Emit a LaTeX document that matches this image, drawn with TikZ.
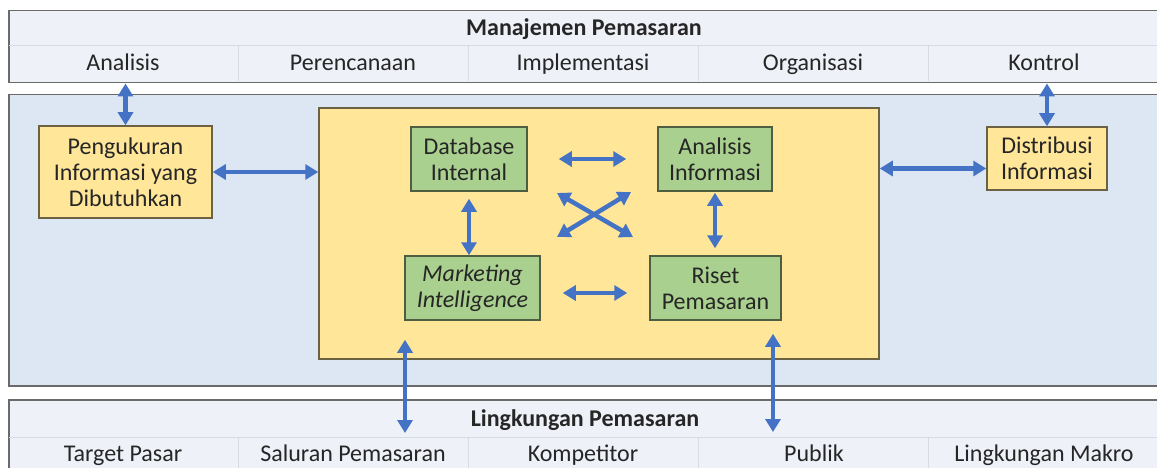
\documentclass[tikz,border=0pt]{standalone}
\usepackage{fontspec}
\setmainfont{Carlito}
\usetikzlibrary{arrows.meta,calc}
\definecolor{panelA}{HTML}{EEF1F7}
\definecolor{panelB}{HTML}{DDE7F3}
\definecolor{divl}{HTML}{D6DBE5}
\definecolor{yel}{HTML}{FFE699}
\definecolor{grn}{HTML}{A9D08E}
\definecolor{arr}{HTML}{4472C4}
\definecolor{edge}{HTML}{6A6A6A}
\definecolor{yedge}{HTML}{6B6244}
\definecolor{gedge}{HTML}{4E5E40}
\definecolor{txt}{HTML}{262626}
\begin{document}
\begin{tikzpicture}[x=1pt,y=-1pt,
  font=\fontsize{24}{26}\selectfont,
  panel/.style={draw=edge, line width=1.5pt, anchor=north west, inner sep=0pt},
  ybox/.style={draw=yedge, fill=yel, line width=1.5pt, inner sep=0pt, align=center, text=txt},
  gbox/.style={draw=gedge, fill=grn, line width=1.5pt, inner sep=0pt, align=center, text=txt},
  lbl/.style={text=txt, inner sep=0pt, anchor=base},
  hdr/.style={text=txt, inner sep=0pt, anchor=base, font=\fontsize{24}{26}\selectfont\bfseries},
  dbl/.style={draw=arr, line width=4.5pt,
    {Triangle[width=15pt,length=13pt]}-{Triangle[width=15pt,length=13pt]}},
  divline/.style={draw=divl, line width=1pt}
]
\useasboundingbox (0,0) rectangle (1157,468);
% panels
\node[panel, fill=panelA, minimum width=1152pt, minimum height=72pt] (top) at (8,10) {};
\node[panel, fill=panelB, minimum width=1152pt, minimum height=291pt] (mid) at (8,94) {};
\node[panel, fill=panelA, minimum width=1152pt, minimum height=80pt] (env) at (8,399) {};
% dividers top
\draw[divline] (9,46) -- (1157,46);
\foreach \x in {238,468,698,928} \draw[divline] (\x,46) -- (\x,81);
% dividers bottom
\draw[divline] (9,437) -- (1157,437);
\foreach \x in {238,468,698,928} \draw[divline] (\x,437) -- (\x,468);
% top texts
\node[hdr] (mgmt) at (584,36) {Manajemen Pemasaran};
\node[lbl] (t1) at (123,71) {Analisis};
\node[lbl] (t2) at (353,71) {Perencanaan};
\node[lbl] (t3) at (583,71) {Implementasi};
\node[lbl] (t4) at (813,71) {Organisasi};
\node[lbl] (t5) at (1044,71) {Kontrol};
% bottom texts
\node[hdr] (envh) at (585,426) {Lingkungan Pemasaran};
\node[lbl] (b1) at (123,461) {Target Pasar};
\node[lbl] (b2) at (353,461) {Saluran Pemasaran};
\node[lbl] (b3) at (583,461) {Kompetitor};
\node[lbl] (b4) at (814,461) {Publik};
\node[lbl] (b5) at (1044,461) {Lingkungan Makro};
% boxes
\node[ybox, minimum width=173pt, minimum height=92pt] (meas) at (125.5,172) {Pengukuran\\Informasi yang\\Dibutuhkan};
\node[ybox, minimum width=120pt, minimum height=63pt] (dist) at (1047,158.5) {Distribusi\\Informasi};
\node[ybox, minimum width=560pt, minimum height=251pt] (yelbox) at (599,233.5) {};
\node[gbox, minimum width=116pt, minimum height=64pt] (db) at (469,159) {Database\\Internal};
\node[gbox, minimum width=114pt, minimum height=64pt] (ai) at (715,159) {Analisis\\Informasi};
\node[gbox, minimum width=135pt, minimum height=64pt] (mi) at (472.5,288) {\itshape Marketing\\\itshape Intelligence};
\node[gbox, minimum width=131pt, minimum height=64pt] (rp) at (715.5,288) {Riset\\Pemasaran};
% arrows between panels and boxes
\draw[dbl] (meas.north |- top.south) -- (meas.north);
\draw[dbl] (dist.north |- top.south) -- (dist.north);
\draw[dbl] (meas.east) -- (meas.east -| yelbox.west);
\coordinate (r1) at ($(dist.west)+(0,10)$);
\draw[dbl] (yelbox.east |- r1) -- (r1);
% inner arrows
\draw[dbl, shorten <=31pt, shorten >=31pt] (db.east) -- (ai.west);
\draw[dbl, shorten <=22pt, shorten >=22pt] ([yshift=-5pt]mi.east) -- ([yshift=-5pt]mi.east -| rp.west);
\draw[dbl, shorten <=7pt] (db.south) -- (db.south |- mi.north);
\draw[dbl, shorten <=1pt, shorten >=7pt] (ai.south) -- (ai.south |- rp.north);
\coordinate (xa) at (557,193);
\coordinate (xb) at (633,237);
\coordinate (xc) at (557,237);
\coordinate (xd) at (631,192);
\draw[dbl] (xa) -- (xb);
\draw[dbl] (xc) -- (xd);
% vertical arrows to environment
\draw[dbl] ($(yelbox.south -| 405,0)+(0,-20)$) -- ($(env.north -| 405,0)+(0,34)$);
\draw[dbl] ($(yelbox.south -| 773,0)+(0,-26)$) -- ($(env.north -| 773,0)+(0,33)$);
\end{tikzpicture}
\end{document}
